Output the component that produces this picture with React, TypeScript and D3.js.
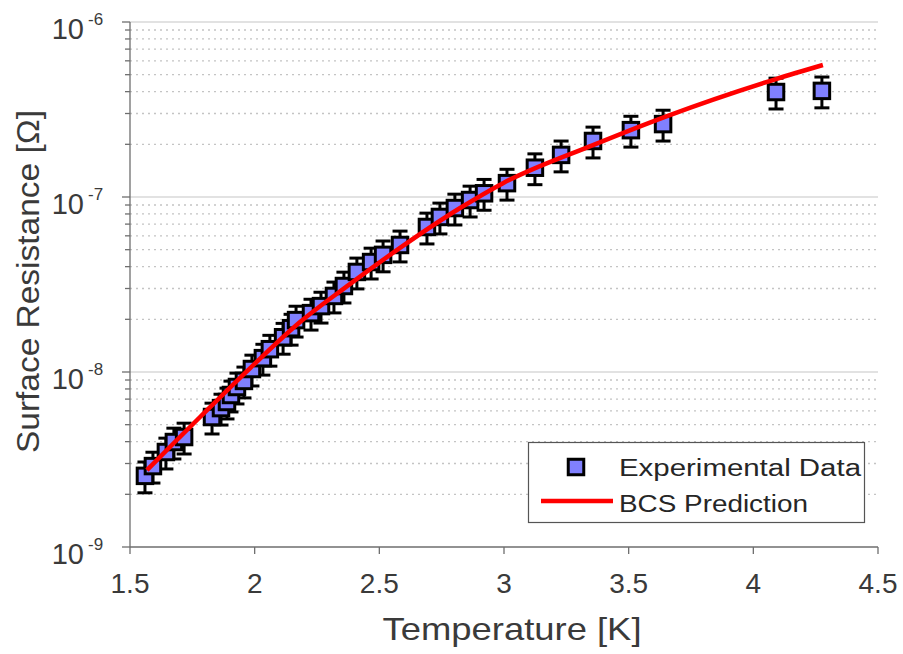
import React from "react";
import * as d3 from "d3";

// ---- Data ----
const tempK = [1.56, 1.592, 1.644, 1.676, 1.717, 1.829, 1.865, 1.889, 1.905, 1.929, 1.957, 1.989, 2.033, 2.061, 2.114, 2.146, 2.166, 2.226, 2.266, 2.318, 2.358, 2.41, 2.467, 2.515, 2.583, 2.691, 2.743, 2.803, 2.864, 2.92, 3.012, 3.124, 3.229, 3.357, 3.509, 3.638, 4.091, 4.275];
const rsExp = [2.55e-9, 2.9e-9, 3.49e-9, 3.98e-9, 4.25e-9, 5.53e-9, 6.22e-9, 6.74e-9, 7.39e-9, 8.21e-9, 8.89e-9, 1.04e-8, 1.2e-8, 1.35e-8, 1.58e-8, 1.78e-8, 1.98e-8, 2.17e-8, 2.38e-8, 2.72e-8, 3.1e-8, 3.73e-8, 4.25e-8, 4.67e-8, 5.32e-8, 6.74e-8, 7.69e-8, 8.65e-8, 9.61e-8, 1.05e-7, 1.2e-7, 1.47e-7, 1.74e-7, 2.09e-7, 2.41e-7, 2.61e-7, 3.98e-7, 4.04e-7];
const errorPercent = 20;

const bcsT = [1.568, 1.68, 1.781, 1.981, 2.182, 2.382, 2.583, 2.824, 2.996, 3.357, 3.654, 4.091, 4.279];
const bcsR = [2.75e-9, 3.98e-9, 5.53e-9, 1.05e-8, 1.93e-8, 3.18e-8, 5.12e-8, 8.65e-8, 1.2e-7, 1.98e-7, 2.9e-7, 4.72e-7, 5.68e-7];

const xTicks = [1.5, 2, 2.5, 3, 3.5, 4, 4.5];
const xTickLabels = ["1.5", "2", "2.5", "3", "3.5", "4", "4.5"];
const yDecades = [-9, -8, -7, -6];

const seriesNames = ["Experimental Data", "BCS Prediction"];
const xTitle = "Temperature [K]";
const yTitle = "Surface Resistance [Ω]";

// ---- Layout ----
const W = 903;
const H = 654;
const left = 130;
const right = 878;
const top = 22;
const bottom = 547;
const font = "'Liberation Sans', Arial, sans-serif";
const textColor = "#3a3a3a";
const axisColor = "#6e6e6e";

export default function App() {
  const x = d3.scaleLinear().domain([1.5, 4.5]).range([left, right]);
  const y = d3.scaleLog().domain([1e-9, 1e-6]).range([bottom, top]);

  const minorVals: number[] = [];
  for (let e = -9; e < -6; e++) {
    for (let m = 2; m <= 9; m++) minorVals.push(m * Math.pow(10, e));
  }
  const majorVals = yDecades.map((e) => Math.pow(10, e));

  const line = d3
    .line<number>()
    .x((_, i) => x(bcsT[i]))
    .y((d) => y(d))
    .curve(d3.curveMonotoneX);

  const sq = 15.5;
  const cap = 15;

  return (
    <svg
      width={W}
      height={H}
      style={{ position: "absolute", left: 0, top: 0, background: "#fff" }}
    >
      {/* gridlines */}
      <g>
        {minorVals.map((v, i) => (
          <line
            key={"mn" + i}
            x1={left}
            x2={right}
            y1={y(v)}
            y2={y(v)}
            stroke="#c4c4c4"
            strokeWidth={1.3}
            strokeDasharray="2,4"
          />
        ))}
        {majorVals.slice(1).map((v, i) => (
          <line
            key={"mj" + i}
            x1={left}
            x2={right}
            y1={y(v)}
            y2={y(v)}
            stroke="#d9d9d9"
            strokeWidth={1.3}
          />
        ))}
      </g>

      {/* axes */}
      <g stroke={axisColor} strokeWidth={1.3}>
        <line x1={left} x2={left} y1={top} y2={bottom} />
        <line x1={left} x2={right} y1={bottom} y2={bottom} />
        {majorVals.map((v, i) => (
          <line key={"ymt" + i} x1={left - 8} x2={left} y1={y(v)} y2={y(v)} />
        ))}
        {minorVals.map((v, i) => (
          <line key={"ymn" + i} x1={left - 5} x2={left} y1={y(v)} y2={y(v)} />
        ))}
        {xTicks.map((t, i) => (
          <line key={"xt" + i} x1={x(t)} x2={x(t)} y1={bottom} y2={bottom + 7} />
        ))}
      </g>

      {/* x tick labels */}
      <g fontFamily={font} fontSize={28} fill={textColor} textAnchor="middle">
        {xTicks.map((t, i) => (
          <text key={"xl" + i} x={x(t)} y={593}>
            {xTickLabels[i]}
          </text>
        ))}
      </g>

      {/* y tick labels */}
      <g fontFamily={font} fill={textColor}>
        {yDecades.map((e, i) => {
          const yy = y(Math.pow(10, e));
          return (
            <g key={"yl" + i}>
              <text x={84} y={yy + 17} fontSize={29} textAnchor="end">
                10
              </text>
              <text x={88} y={yy + 3} fontSize={17}>
                {String(e)}
              </text>
            </g>
          );
        })}
      </g>

      {/* axis titles */}
      <text
        x={512}
        y={640}
        fontFamily={font}
        fontSize={32}
        fill={textColor}
        textAnchor="middle"
        textLength={259}
        lengthAdjust="spacingAndGlyphs"
      >
        {xTitle}
      </text>
      <text
        transform={`translate(38.5,281.5) rotate(-90)`}
        fontFamily={font}
        fontSize={32}
        fill={textColor}
        textAnchor="middle"
        textLength={343}
        lengthAdjust="spacingAndGlyphs"
      >
        {yTitle}
      </text>

      {/* error bars */}
      <g stroke="#000" strokeWidth={3}>
        {tempK.map((t, i) => {
          const cx = x(t);
          const v = rsExp[i];
          const hi = y(v * (1 + errorPercent / 100));
          const lo = y(v * (1 - errorPercent / 100));
          return (
            <g key={"eb" + i}>
              <line x1={cx} x2={cx} y1={hi} y2={lo} />
              <line x1={cx - cap / 2} x2={cx + cap / 2} y1={hi} y2={hi} />
              <line x1={cx - cap / 2} x2={cx + cap / 2} y1={lo} y2={lo} />
            </g>
          );
        })}
      </g>

      {/* markers */}
      <g fill="#8080ff" stroke="#000" strokeWidth={3}>
        {tempK.map((t, i) => (
          <rect
            key={"m" + i}
            x={x(t) - sq / 2}
            y={y(rsExp[i]) - sq / 2}
            width={sq}
            height={sq}
          />
        ))}
      </g>

      {/* BCS line */}
      <path d={line(bcsR) || ""} fill="none" stroke="#ff0000" strokeWidth={4.5} />

      {/* legend */}
      <g>
        <rect x={528.5} y={442.5} width={336} height={80} fill="#fff" stroke="#555" strokeWidth={1.2} />
        <rect x={576 - sq / 2} y={467 - sq / 2} width={sq} height={sq} fill="#8080ff" stroke="#000" strokeWidth={3} />
        <line x1={541} x2={613} y1={501} y2={501} stroke="#ff0000" strokeWidth={4.5} />
        <text
          x={619}
          y={476}
          fontFamily={font}
          fontSize={23}
          fill="#262626"
          textLength={242}
          lengthAdjust="spacingAndGlyphs"
        >
          {seriesNames[0]}
        </text>
        <text
          x={619}
          y={512}
          fontFamily={font}
          fontSize={23}
          fill="#262626"
          textLength={189}
          lengthAdjust="spacingAndGlyphs"
        >
          {seriesNames[1]}
        </text>
      </g>
    </svg>
  );
}
